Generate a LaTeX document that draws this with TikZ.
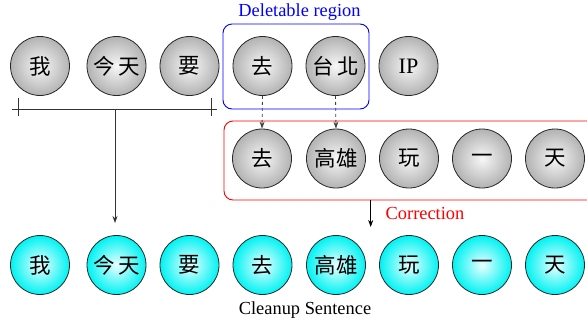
\documentclass[tikz,border=0pt]{standalone}
\usepackage{fontspec}
\setmainfont{Liberation Serif}
\newfontfamily\cjk{Noto Sans CJK TC}
\newfontfamily\latinserif{Liberation Serif}
\usetikzlibrary{arrows.meta}
\begin{document}
\begin{tikzpicture}[x=1pt,y=-1pt,
  ball/.style={circle,draw=black!85,line width=0.8pt,minimum size=59pt,inner sep=0pt,
    font=\cjk\fontsize{21.5}{23}\selectfont},
  grayball/.style={ball,shading=radial,inner color=gray!6,outer color=gray!60},
  cyanball/.style={ball,shading=radial,inner color=cyan!8,outer color=cyan!95!black},
  lbl/.style={font=\latinserif\fontsize{18.4}{20}\selectfont},
  arr/.style={-{Stealth[length=7pt,width=5pt]},line width=0.8pt},
]
\useasboundingbox (0,0) rectangle (587,327);
% top row
\node[grayball] (t1) at (40,66) {我};
\node[grayball] (t2) at (116.5,66) {今\,天};
\node[grayball] (t3) at (189.5,66) {要};
\node[grayball] (t4) at (262.5,66) {去};
\node[grayball] (t5) at (335.5,66) {台\,北};
\node[grayball,font=\latinserif\fontsize{22}{24}\selectfont] (t6) at (408.5,66) {IP};
% middle row
\node[grayball] (m1) at (262,158.5) {去};
\node[grayball] (m2) at (336,158.5) {高雄};
\node[grayball] (m3) at (409,158.5) {玩};
\node[grayball] (m4) at (482,158.5) {一};
\node[grayball] (m5) at (555,158.5) {天};
% bottom row
\node[cyanball] (b1) at (40,265) {我};
\node[cyanball] (b2) at (116.5,265) {今\,天};
\node[cyanball] (b3) at (189.5,265) {要};
\node[cyanball] (b4) at (262.5,265) {去};
\node[cyanball] (b5) at (336,265) {高雄};
\node[cyanball] (b6) at (409,265) {玩};
\node[cyanball] (b7) at (482,265) {一};
\node[cyanball] (b8) at (555,265) {天};
% regions
\node[draw=blue,line width=0.9pt,rounded corners=9pt,minimum width=146pt,minimum height=85pt] (del) at (296,66.5) {};
\node[lbl,text=blue] (deltxt) at (299.5,12) {Deletable region};
\node[draw=red,line width=0.9pt,rounded corners=9pt,minimum width=380pt,minimum height=79pt] (cor) at (414,160.5) {};
\node[lbl,text=red] (cortxt) at (425,213) {Correction};
\node[lbl] (clean) at (305,310) {Cleanup Sentence};
% dashed arrows
\draw[arr,dashed,draw=black!75] (t4.south) -- (m1.north);
\draw[arr,dashed,draw=black!75] (t5.south) -- (m2.north);
% bracket
\coordinate (bl) at (12,109);
\coordinate (br) at (217,109);
\coordinate (bm) at (115,109);
\coordinate (bend) at (115,223);
\draw[line width=0.8pt,black!80] (bl) -- (br);
\draw[line width=0.8pt,black!80] (18,98) -- (18,116);
\draw[line width=0.8pt,black!80] (211,98) -- (211,116);
\draw[arr,black!80] (bm) -- (bend);
% correction arrow
\coordinate (ca) at (370.7,200);
\coordinate (cb) at (370.7,227);
\draw[arr] (ca) -- (cb);
\end{tikzpicture}
\end{document}
